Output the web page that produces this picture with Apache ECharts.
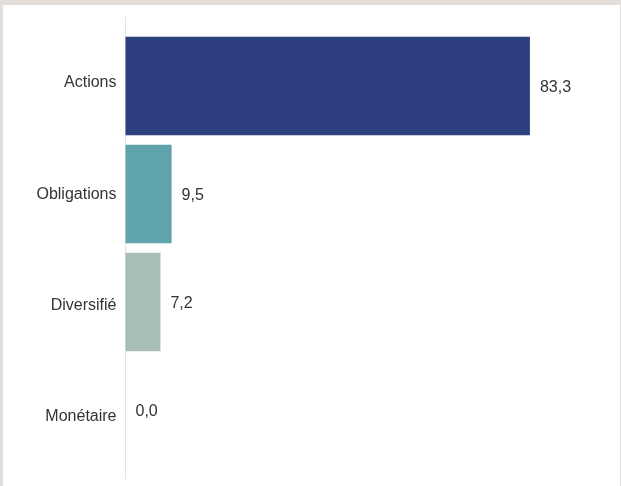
<!DOCTYPE html>
<html>
<head>
<meta charset="utf-8">
<script src="https://cdn.jsdelivr.net/npm/echarts@6/dist/echarts.min.js"></script>
<style>
  html, body { margin: 0; padding: 0; background: #e3ded9; width: 621px; height: 486px; overflow: hidden; }
  #chart { position: absolute; left: 3px; top: 5px; width: 617px; height: 481px; background: #ffffff; }
</style>
</head>
<body>
<div id="chart"></div>
<script>
const categories = ["Actions", "Obligations", "Diversifié", "Monétaire"];
const values = [83.3, 9.5, 7.2, 0.0];
const colors = ["#2e3f80", "#5fa3ad", "#a8bfb6", "#c9d6d1"];

const FONT = 'Liberation Sans, Arial, sans-serif';
const chart = echarts.init(document.getElementById('chart'));
chart.setOption({
  animation: false,
  grid: [
    { left: 122.5, right: 9, top: 27, bottom: 22 },
    { left: 122.5, right: 9, top: 12, bottom: 7 },
    { left: 122.5, right: 9, top: 22.5, bottom: 14 }
  ],
  xAxis: [
    { type: 'value', min: 0, max: 100, show: false, gridIndex: 0 },
    { type: 'value', min: 0, max: 100, show: false, gridIndex: 1 },
    { type: 'value', min: 0, max: 100, show: false, gridIndex: 2 }
  ],
  yAxis: [
    {
      type: 'category', data: categories, inverse: true, gridIndex: 0,
      axisLine: { show: false }, axisTick: { show: false }, axisLabel: { show: false }
    },
    {
      type: 'category', data: categories, inverse: true, gridIndex: 1,
      axisLine: { show: true, lineStyle: { color: '#e2e2e2', width: 1 } },
      axisTick: { show: false }, axisLabel: { show: false }
    },
    {
      type: 'category', data: categories, inverse: true, gridIndex: 2,
      axisLine: { show: false }, axisTick: { show: false },
      axisLabel: { color: '#333333', fontSize: 16, fontFamily: FONT, margin: 9 }
    }
  ],
  series: [{
    type: 'bar',
    xAxisIndex: 0, yAxisIndex: 0,
    barCategoryGap: '9%',
    data: values.map((v, i) => ({ value: v, itemStyle: { color: colors[i] } })),
    label: {
      show: true, position: 'right', distance: 10, offset: [0, 2],
      color: '#333333', fontSize: 16, fontFamily: FONT,
      formatter: p => p.value.toFixed(1).replace('.', ',')
    }
  }]
});
</script>
</body>
</html>
